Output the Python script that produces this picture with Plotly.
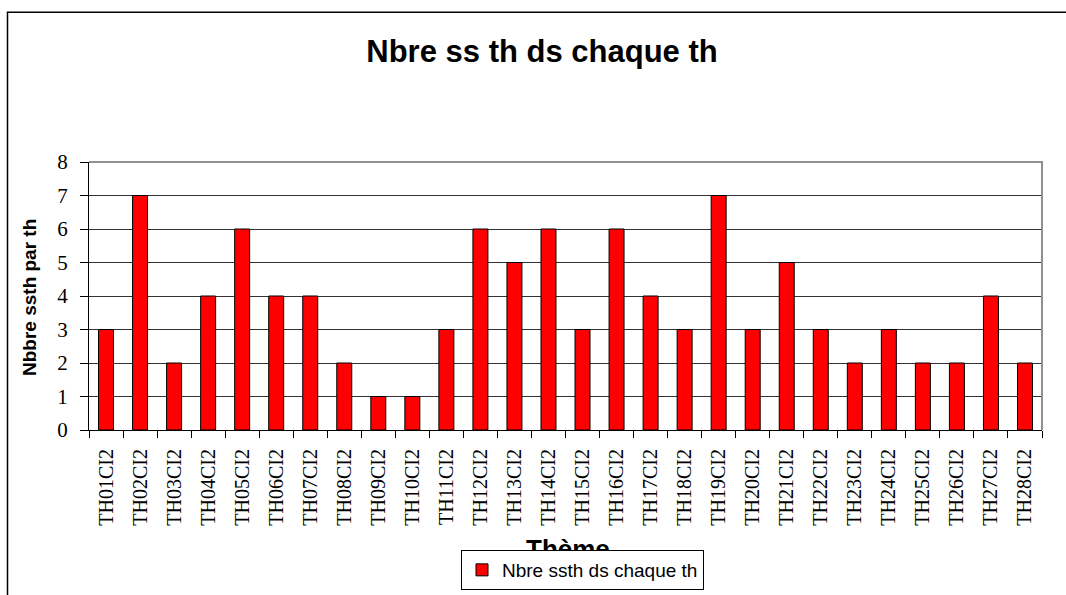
import plotly.graph_objects as go

categories = [f"TH{i:02d}CI2" for i in range(1, 29)]
values = [3, 7, 2, 4, 6, 4, 4, 2, 1, 1, 3, 6, 5, 6, 3, 6, 4, 3, 7, 3, 5, 3, 2, 3, 2, 2, 4, 2]
y_ticks = [0, 1, 2, 3, 4, 5, 6, 7, 8]

title_text = "Nbre ss th ds chaque th"
series_name = "Nbre ssth ds chaque th"
y_title = "Nbbre ssth par th"
x_title = "Thème"

W, H = 1066, 595
L, R, T, B = 89, 24, 162, 165
pw, ph = W - L - R, H - T - B

def px(xp):
    return (xp - L) / pw

def py(yp):
    return (H - B - yp) / ph

fig = go.Figure()
fig.add_trace(go.Bar(
    x=categories, y=values, name=series_name,
    marker=dict(color="#FF0000", line=dict(color="black", width=1)),
    showlegend=True,
))

sans = "Liberation Sans, Arial, sans-serif"
serif = "Liberation Serif, Times New Roman, serif"

fig.update_layout(
    width=W, height=H,
    margin=dict(l=L, r=R, t=T, b=B, pad=0, autoexpand=False),
    paper_bgcolor="white", plot_bgcolor="white",
    bargap=0.56,
    title=dict(text=title_text, x=542 / W, xref="container", xanchor="center",
               y=1 - 51 / H, yref="container", yanchor="middle",
               font=dict(family=sans, size=31, color="black", weight="bold")),
    showlegend=True,
    legend=dict(x=px(582.5), y=py(590), xanchor="center", yanchor="bottom",
                xref="paper", yref="paper",
                bgcolor="white", bordercolor="black", borderwidth=1,
                font=dict(family=sans, size=19, color="black"),
                itemwidth=30),
    xaxis=dict(range=[-0.5, 27.5], tickangle=-90, tickson="boundaries",
               ticks="outside", ticklen=7, tickcolor="black", tickwidth=1,
               showline=True, linecolor="black", linewidth=1,
               showgrid=False, ticklabelstandoff=10, automargin=False,
               tickfont=dict(family=serif, size=20, color="black")),
    yaxis=dict(range=[0, 8], tickvals=y_ticks, ticks="outside", ticklen=8,
               tickcolor="black", tickwidth=1,
               showline=True, linecolor="black", linewidth=1,
               showgrid=True, gridcolor="#333333", gridwidth=1,
               zeroline=False, ticklabelstandoff=8, automargin=False,
               tickfont=dict(family=serif, size=21, color="black")),
)

# y-axis title
fig.add_annotation(text=y_title, x=px(29), y=py(298), xref="paper", yref="paper",
                   textangle=-90, showarrow=False, xanchor="center", yanchor="middle",
                   font=dict(family=sans, size=19, color="black", weight="bold"))
# x-axis title
fig.add_annotation(text=x_title, x=px(568), y=py(549), xref="paper", yref="paper",
                   showarrow=False, xanchor="center", yanchor="middle",
                   font=dict(family=sans, size=26, color="black", weight="bold"))

# plot-area top/right border (gray)
fig.add_shape(type="path", xref="paper", yref="paper",
              path="M 0,1 L 1,1 L 1,0", line=dict(color="#909090", width=2),
              layer="above")
# outer chart frame (cropped)
fig.add_shape(type="path", xref="paper", yref="paper",
              path=f"M {px(7.5)},{py(600)} L {px(7.5)},{py(12.3)} L {px(1070)},{py(12.3)}",
              line=dict(color="black", width=1.5), layer="above")

post = """
document.body.style.margin = '0';
document.body.style.padding = '0';
document.body.style.overflow = 'hidden';
var il = document.querySelector('.infolayer');
var lg = document.querySelector('.infolayer g.legend');
if (il && lg) { il.appendChild(lg); }
"""
fig.write_html("out.html", post_script=post, config={"displayModeBar": False})
